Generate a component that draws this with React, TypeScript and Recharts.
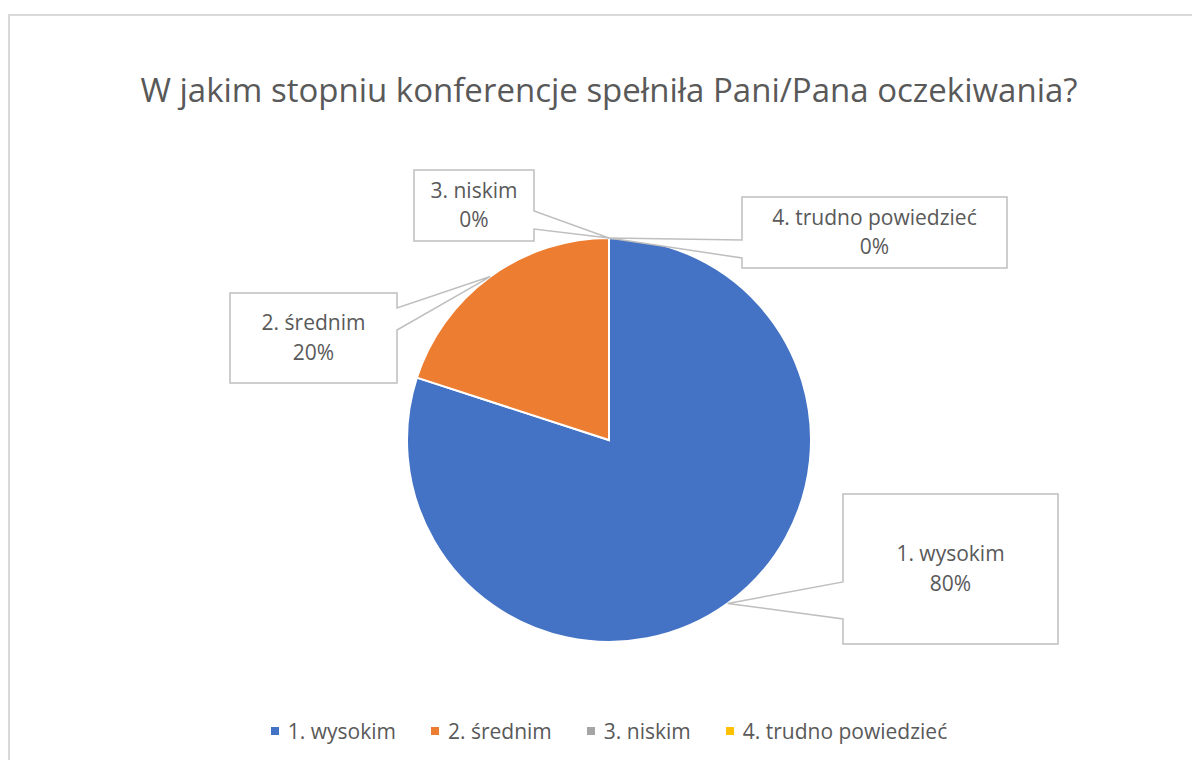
import React from "react";
import { PieChart, Pie, Cell, Legend } from "recharts";

const TITLE = "W jakim stopniu konferencje spełniła Pani/Pana oczekiwania?";
const categories = ["1. wysokim", "2. średnim", "3. niskim", "4. trudno powiedzieć"];
const values = [80, 20, 0, 0];
const colors = ["#4472C4", "#ED7D31", "#A5A5A5", "#FFC000"];

const data = categories.map((name, i) => ({ name, value: values[i] }));

// callout boxes layout (chart coords)
const callouts = [
  { x: 835, y: 486, w: 215, h: 150, edge: "left", p1: 574, p2: 611 },
  { x: 222, y: 285, w: 167, h: 90, edge: "right", p1: 300, p2: 322 },
  { x: 406, y: 162, w: 120, h: 71, edge: "right", p1: 203, p2: 221 },
  { x: 734, y: 189, w: 265, h: 71, edge: "left", p1: 232, p2: 250 },
];

const FONT = "'Open Sans', sans-serif";
const TEXT_COLOR = "#595959";
const RADIAN = Math.PI / 180;

const renderLabel = (props: any) => {
  const { cx, cy, midAngle, outerRadius, index, name, percent } = props;
  const c = callouts[index];
  if (!c) return null;
  const ax = cx + outerRadius * Math.cos(-midAngle * RADIAN);
  const ay = cy + outerRadius * Math.sin(-midAngle * RADIAN);
  const l = c.x, r = c.x + c.w, t = c.y, b = c.y + c.h;
  let d: string;
  if (c.edge === "left") {
    d = `M${l},${t} L${r},${t} L${r},${b} L${l},${b} L${l},${c.p2} L${ax},${ay} L${l},${c.p1} Z`;
  } else {
    d = `M${l},${t} L${r},${t} L${r},${c.p1} L${ax},${ay} L${r},${c.p2} L${r},${b} L${l},${b} Z`;
  }
  const mx = c.x + c.w / 2;
  const my = c.y + c.h / 2;
  return (
    <g key={`callout-${index}`}>
      <path d={d} fill="#ffffff" stroke="#BFBFBF" strokeWidth={1.5} />
      <text x={mx} y={my - 13.5} textAnchor="middle" dominantBaseline="middle" fontFamily={FONT} fontSize={21} fill={TEXT_COLOR}>
        {name}
      </text>
      <text x={mx} y={my + 16} textAnchor="middle" dominantBaseline="middle" fontFamily={FONT} fontSize={21} fill={TEXT_COLOR}>
        {`${Math.round((percent || 0) * 100)}%`}
      </text>
    </g>
  );
};

const renderLegend = () => (
  <div style={{ display: "flex", justifyContent: "center", alignItems: "center", fontFamily: FONT, fontSize: 21, color: TEXT_COLOR }}>
    {categories.map((c, i) => (
      <div key={c} style={{ display: "flex", alignItems: "center", marginRight: i < categories.length - 1 ? 35 : 0 }}>
        <span style={{ display: "inline-block", width: 8, height: 8, background: colors[i], marginRight: 9 }} />
        <span>{c}</span>
      </div>
    ))}
  </div>
);

export default function App() {
  return (
    <div style={{ position: "relative", width: 1192, height: 752, overflow: "hidden", background: "#fff" }}>
      <div style={{ position: "absolute", left: 0, top: 6, width: 1300, height: 900, border: "2px solid #D9D9D9", boxSizing: "border-box" }} />
      <div style={{ position: "absolute", left: 0, top: 60, width: 1202, textAlign: "center", fontFamily: FONT, fontSize: 33, lineHeight: "44px", color: TEXT_COLOR }}>
        {TITLE}
      </div>
      <div style={{ position: "absolute", left: 0, top: 0 }}>
        <PieChart width={1192} height={752} margin={{ top: 0, right: 0, bottom: 0, left: 0 }}>
          <Pie
            data={data}
            dataKey="value"
            nameKey="name"
            cx={601}
            cy={432}
            outerRadius={202}
            startAngle={90}
            endAngle={-270}
            stroke="#ffffff"
            strokeWidth={2}
            label={renderLabel}
            labelLine={false}
            isAnimationActive={false}
          >
            {data.map((d, i) => (
              <Cell key={d.name} fill={colors[i]} />
            ))}
          </Pie>
          <Legend verticalAlign="bottom" wrapperStyle={{ top: 709, bottom: "auto", left: 0, width: 1202 }} content={renderLegend} />
        </PieChart>
      </div>
    </div>
  );
}
